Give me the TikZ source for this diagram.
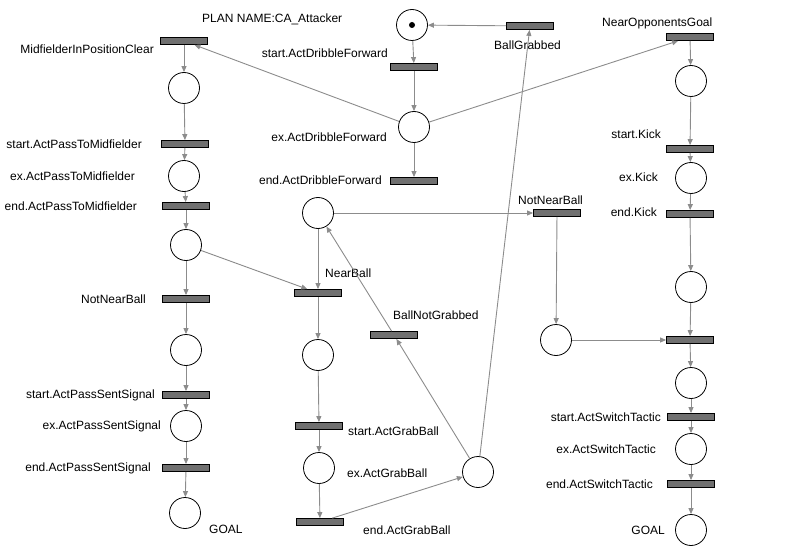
\documentclass[tikz,border=0pt]{standalone}
\usepackage{fontspec}
\setmainfont{Liberation Sans}
\usepackage{tikz}
\usetikzlibrary{arrows.meta}
\definecolor{arcgray}{RGB}{140,140,140}
\definecolor{bargray}{RGB}{112,112,112}

\begin{document}
\begin{tikzpicture}[x=1pt,y=-1pt,font=\fontsize{12}{14}\selectfont,
  place/.style={circle,draw,line width=0.8pt,fill=white,minimum size=31pt,inner sep=0pt},
  trans/.style={rectangle,draw,line width=0.8pt,fill=bargray,minimum width=47pt,minimum height=7pt,inner sep=0pt},
  arc/.style={draw=arcgray,line width=0.9pt,-{Triangle[length=6pt,width=5pt]}},
  lbl/.style={inner sep=0pt}]
  \useasboundingbox (0,0) rectangle (800,556);
  % places
  \foreach \n/\x/\y in {p0/412/25,pdx/414/127,pL1/184/88,pL2/184/176,pL3/186/245,pL4/186/350,pL5/186/426,pL6/185/513,
    pM0/318/213,pM1/318/355,pM2/319/468,pG/478/472,pN/556/340,pR1/691/81,pR2/691/178,pR3/691/287,pR4/691/383,pR5/691/449,pR6/691/530}
    \node[place] (\n) at (\x,\y) {};
  \fill (p0) circle (3);
  % transitions
  \foreach \n/\x/\y in {tBG/530/26,tsD/414/67,teD/414/181,tMC/184/41,tsP/185/144,teP/186/206,tNNL/186/299,tsS/186/395,teS/186/468,
    tNOG/690/37,tsK/690/149,teK/690/214,tJ/690/340,tsT/691/417,teT/691/484,tNNB/557/213,tNB/318/293,tBNG/394/335,tsG/319/426,teG/320/522}
    \node[trans] (\n) at (\x,\y) {};
  % labels
  \foreach \n/\x/\y/\a/\t in {lPlan/202/19/west/PLAN NAME:CA\_Attacker,lBG/494/45/west/BallGrabbed,lsD/388/53/east/start.ActDribbleForward,
    ldx/387/137/east/ex.ActDribbleForward,leD/382/180/east/end.ActDribbleForward,lMC/154/49/east/MidfielderInPositionClear,
    lsP/142/144/east/start.ActPassToMidfielder,lxP/135/176/east/ex.ActPassToMidfielder,leP/137/206/east/end.ActPassToMidfielder,
    lNNL/146/299/east/NotNearBall,lsS/155/395/east/start.ActPassSentSignal,lxS/161/426/east/ex.ActPassSentSignal,
    leS/151/468/east/end.ActPassSentSignal,lGL/209/529/west/GOAL,lNNB/518/200/west/NotNearBall,lNB/325/273/west/NearBall,
    lBNG/393/315/west/BallNotGrabbed,lsG/348/431/west/start.ActGrabBall,lxG/347/473/west/ex.ActGrabBall,leG/363/530/west/end.ActGrabBall,
    lNOG/602/23/west/NearOpponentsGoal,lsK/661/134/east/start.Kick,lxK/658/177/east/ex.Kick,leK/657/212/east/end.Kick,
    lsT/661/417/east/start.ActSwitchTactic,lxT/656/449/east/ex.ActSwitchTactic,leT/653/484/east/end.ActSwitchTactic,lGR/665/530/east/GOAL}
    \node[lbl,anchor=\a] (\n) at (\x,\y) {\t};
  % arcs
  \foreach \a/\b in {p0/tsD,tsD/pdx,pdx/teD,pdx/tMC,pdx/tNOG,tBG/p0,pG/tBG,pG/tBNG,tBNG/pM0,pM0/tNNB,pM0/tNB,pL3/tNB,
    tNB/pM1,pM1/tsG,tsG/pM2,pM2/teG,teG/pG,tNNB/pN,pN/tJ,
    tMC/pL1,pL1/tsP,tsP/pL2,pL2/teP,teP/pL3,pL3/tNNL,tNNL/pL4,pL4/tsS,tsS/pL5,pL5/teS,teS/pL6,
    tNOG/pR1,pR1/tsK,tsK/pR2,pR2/teK,teK/pR3,pR3/tJ,tJ/pR4,pR4/tsT,tsT/pR5,pR5/teT,teT/pR6}
    \draw[arc] (\a) -- (\b);
\end{tikzpicture}
\end{document}
